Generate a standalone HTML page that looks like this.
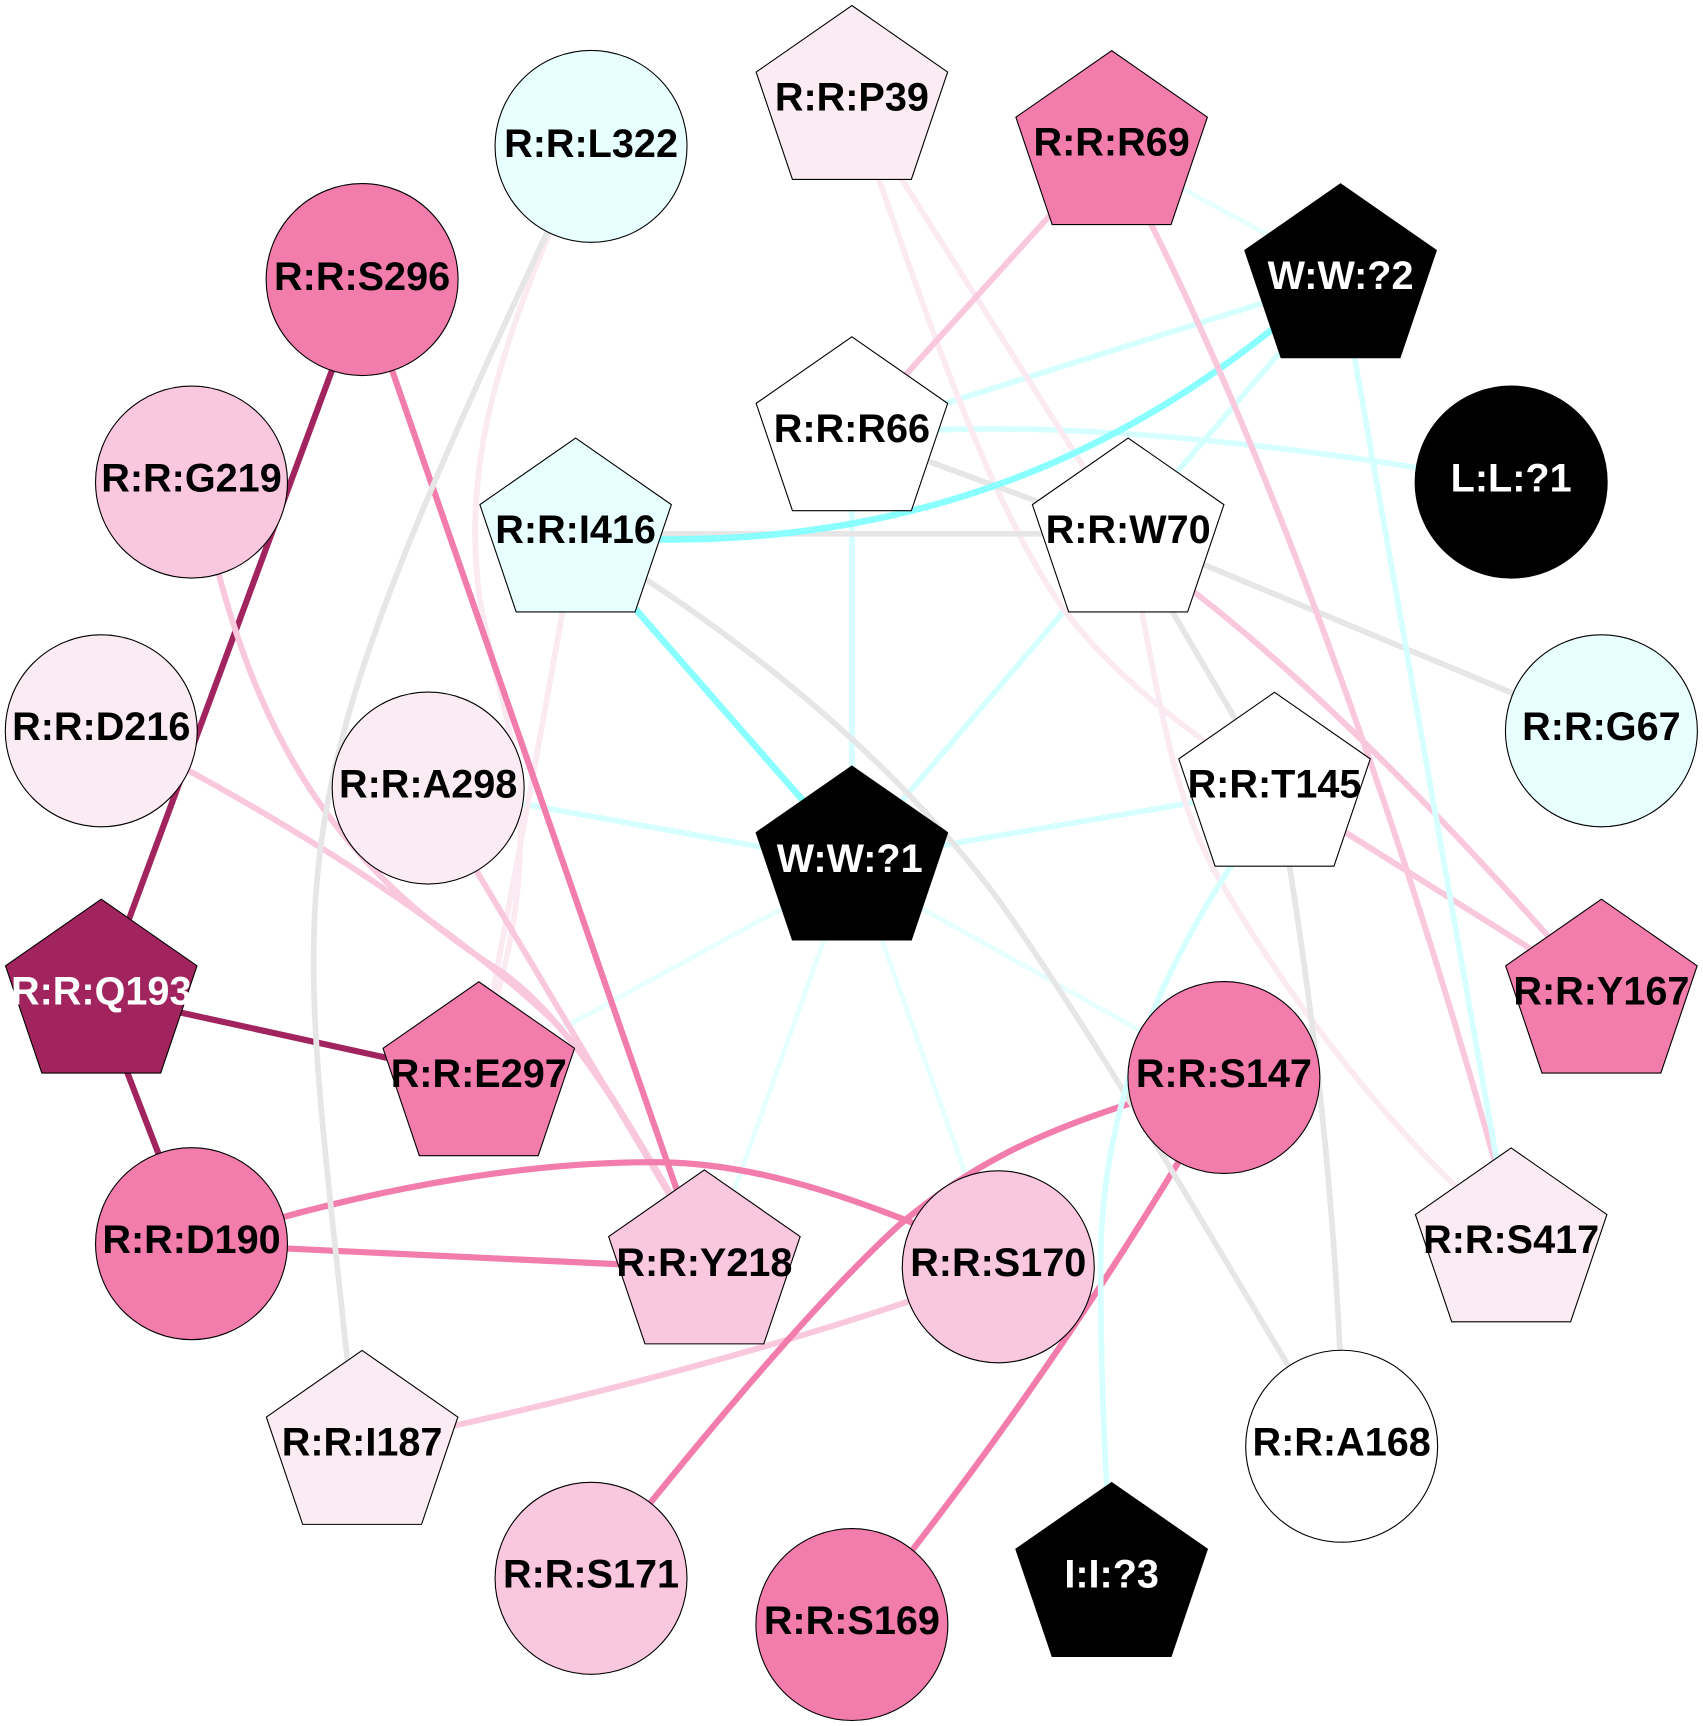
<!DOCTYPE html>
<html>
<head>
<meta charset="utf-8">
<title>Residue interaction network</title>
<style>
html,body{margin:0;padding:0;background:#fff;}
svg{display:block;}
text{font-family:"Liberation Sans",Arial,sans-serif;font-weight:bold;font-size:36px;text-anchor:middle;fill:#000;}
text.w{fill:#fff;}
.e{fill:none;}
.dark{stroke:#a1245f;stroke-width:5.6;}
.mid{stroke:#f27cab;stroke-width:5.6;}
.pink{stroke:#f9c8dd;stroke-width:5.4;}
.pale{stroke:#fbeaf2;stroke-width:5.2;}
.grey{stroke:#e6e6e6;stroke-width:5.2;}
.cy{stroke:#d6ffff;stroke-width:5.2;}
.vl{stroke:#e8ffff;stroke-width:4.6;}
.str{stroke:#8affff;stroke-width:6;}
.n{stroke:#000;stroke-width:1;}
</style>
</head>
<body>
<svg xmlns="http://www.w3.org/2000/svg" width="1703" height="1726" viewBox="0 0 1547.3 1568.2">
<rect width="1547.3" height="1568.2" fill="#fff"/>
<g class="e">
<path class="dark" d="M304,330L115,841"/>
<path class="dark" d="M112,965L147,1056"/>
<path class="dark" d="M155,918L360,963"/>
<path class="str" d="M570,545L745,745"/>
<path class="cy" d="M1158,272L851,369"/>
<path class="cy" d="M844,391C950,386 1100,395 1295,426"/>
<path class="cy" d="M1170,312L1064,435"/>
<path class="cy" d="M774,455L774,710"/>
<path class="cy" d="M972,549L820,727"/>
<path class="cy" d="M1085,729L850,769"/>
<path class="cy" d="M467,729L705,772"/>
<path class="vl" d="M1068,168L1159,217"/>
<path class="vl" d="M508,936L715,823"/>
<path class="vl" d="M753,842L664,1090"/>
<path class="vl" d="M797,842L881,1077"/>
<path class="vl" d="M828,820L1044,941"/>
<path class="pale" d="M502,205C450,330 420,430 436,545C452,640 500,730 452,903"/>
<path class="pale" d="M513,545Q482,720 446,910"/>
<path class="pale" d="M813,153L990,433"/>
<path class="pale" d="M795,153C850,310 905,470 969,557C1010,610 1060,650 1125,695"/>
<path class="pale" d="M1036,547C1060,680 1075,740 1105,794C1160,890 1240,1000 1330,1085"/>
<path class="pink" d="M197,515C240,680 310,790 454,882C510,920 560,1000 618,1100"/>
<path class="pink" d="M162,695C300,770 420,850 500,925C550,975 580,1040 618,1100"/>
<path class="pink" d="M425,778L618,1102"/>
<path class="pink" d="M960,189L817,347"/>
<path class="pink" d="M1076,531C1180,610 1300,730 1415,860"/>
<path class="pink" d="M1214,751L1397,866"/>
<path class="pink" d="M833,1180Q640,1245 405,1297"/>
<path class="mid" d="M354,330L618,1090"/>
<path class="mid" d="M249,1108C380,1072 500,1055 600,1056C680,1057 760,1083 839,1115"/>
<path class="mid" d="M252,1134L570,1149"/>
<path class="mid" d="M1032,1001C940,1030 880,1060 817,1113C760,1165 680,1255 584,1374"/>
<path class="mid" d="M1076,1047Q960,1240 823,1416"/>
<path class="grey" d="M500,205C244,753 267,774 316,1240"/>
<path class="grey" d="M835,416L949,458"/>
<path class="grey" d="M600,485L955,485"/>
<path class="grey" d="M577,520C700,600 820,700 909,820C1000,950 1080,1090 1176,1250"/>
<path class="grey" d="M1084,509L1382,633"/>
<path class="grey" d="M1060,547L1128,663"/>
<path class="grey" d="M1170,777C1190,900 1210,1060 1218,1238"/>
<path class="str" d="M1165,292C1050,385 870,495 590,490"/>
<path class="pink" d="M1041,194C1145,400 1265,720 1360,1062"/>
<path class="cy" d="M1229,315L1360,1055"/>
<path class="cy" d="M1123,780C1050,890 1000,1010 1000,1150C1000,1220 1002,1290 1006,1360"/>
</g>

<g class="n">
<circle cx="537" cy="133" r="87.2" fill="#e8ffff"/>
<circle cx="329" cy="254" r="87.2" fill="#f27cab"/>
<circle cx="174" cy="438" r="87.2" fill="#f9c7de"/>
<circle cx="92" cy="664" r="87.2" fill="#fbecf4"/>
<circle cx="389" cy="716" r="87.2" fill="#fbecf4"/>
<circle cx="1455" cy="664" r="87.2" fill="#e8ffff"/>
<circle cx="1373" cy="438" r="87.2" fill="#000"/>
<circle cx="174" cy="1130" r="87.2" fill="#f27cab"/>
<circle cx="1112" cy="979" r="87.2" fill="#f27cab"/>
<circle cx="907" cy="1151" r="87.2" fill="#f9c7de"/>
<circle cx="537" cy="1434" r="87.2" fill="#f9c7de"/>
<circle cx="774" cy="1476" r="87.2" fill="#f27cab"/>
<circle cx="1219" cy="1314" r="87.2" fill="#fff"/>
<polygon transform="translate(774,92)" points="0,-87 87,-26.5 54,71 -54,71 -87,-26.5" fill="#fbecf4"/>
<polygon transform="translate(1010,133)" points="0,-87 87,-26.5 54,71 -54,71 -87,-26.5" fill="#f27cab"/>
<polygon transform="translate(1218,254)" points="0,-87 87,-26.5 54,71 -54,71 -87,-26.5" fill="#000"/>
<polygon transform="translate(774,393)" points="0,-87 87,-26.5 54,71 -54,71 -87,-26.5" fill="#fff"/>
<polygon transform="translate(523,485)" points="0,-87 87,-26.5 54,71 -54,71 -87,-26.5" fill="#e8ffff"/>
<polygon transform="translate(1025,485)" points="0,-87 87,-26.5 54,71 -54,71 -87,-26.5" fill="#fff"/>
<polygon transform="translate(1158,716)" points="0,-87 87,-26.5 54,71 -54,71 -87,-26.5" fill="#fff"/>
<polygon transform="translate(774,783)" points="0,-87 87,-26.5 54,71 -54,71 -87,-26.5" fill="#000"/>
<polygon transform="translate(92,904)" points="0,-87 87,-26.5 54,71 -54,71 -87,-26.5" fill="#a1245f"/>
<polygon transform="translate(1455,904)" points="0,-87 87,-26.5 54,71 -54,71 -87,-26.5" fill="#f27cab"/>
<polygon transform="translate(435,979)" points="0,-87 87,-26.5 54,71 -54,71 -87,-26.5" fill="#f27cab"/>
<polygon transform="translate(640,1150)" points="0,-87 87,-26.5 54,71 -54,71 -87,-26.5" fill="#f9c7de"/>
<polygon transform="translate(1373,1130)" points="0,-87 87,-26.5 54,71 -54,71 -87,-26.5" fill="#fbecf4"/>
<polygon transform="translate(329,1314)" points="0,-87 87,-26.5 54,71 -54,71 -87,-26.5" fill="#fbecf4"/>
<polygon transform="translate(1010,1434)" points="0,-87 87,-26.5 54,71 -54,71 -87,-26.5" fill="#000"/>
</g>

<g>
<text x="537" y="142.5">R:R:L322</text>
<text x="329" y="263.5">R:R:S296</text>
<text x="174" y="446.5">R:R:G219</text>
<text x="92" y="672.5">R:R:D216</text>
<text x="389" y="724.5">R:R:A298</text>
<text x="1455" y="672.5">R:R:G67</text>
<text class="w" x="1373" y="446.5">L:L:?1</text>
<text x="174" y="1138.5">R:R:D190</text>
<text x="1112" y="987.5">R:R:S147</text>
<text x="907" y="1159.5">R:R:S170</text>
<text x="537" y="1442.5">R:R:S171</text>
<text x="774" y="1484.5">R:R:S169</text>
<text x="1219" y="1322.5">R:R:A168</text>
<text x="774" y="100.5">R:R:P39</text>
<text x="1010" y="141.5">R:R:R69</text>
<text class="w" x="1218" y="262.5">W:W:?2</text>
<text x="774" y="401.5">R:R:R66</text>
<text x="523" y="493.5">R:R:I416</text>
<text x="1025" y="493.5">R:R:W70</text>
<text x="1158" y="724.5">R:R:T145</text>
<text class="w" x="772" y="792.5">W:W:?1</text>
<text class="w" x="92" y="912.5">R:R:Q193</text>
<text x="1455" y="912.5">R:R:Y167</text>
<text x="435" y="987.5">R:R:E297</text>
<text x="640" y="1159.5">R:R:Y218</text>
<text x="1373" y="1138.5">R:R:S417</text>
<text x="329" y="1322.5">R:R:I187</text>
<text class="w" x="1010" y="1442.5">I:I:?3</text>
</g>
</svg>
</body>
</html>
